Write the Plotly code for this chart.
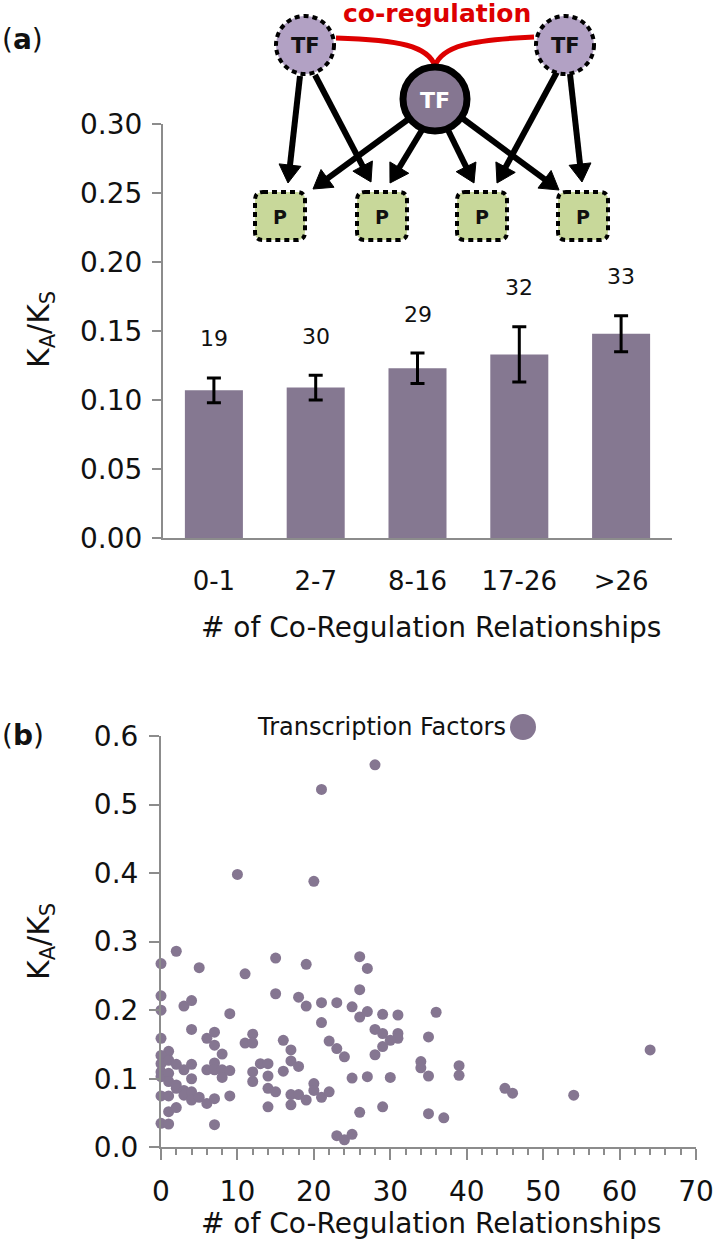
import math
import plotly.graph_objects as go

W, H = 713, 1253

# ---------------- data: panel (a) ----------------
categories = ["0-1", "2-7", "8-16", "17-26", ">26"]
ka_ks_mean = [0.107, 0.109, 0.123, 0.133, 0.148]
ka_ks_err = [0.009, 0.009, 0.011, 0.020, 0.013]
tf_counts = [19, 30, 29, 32, 33]

# ---------------- data: panel (b) ----------------
coreg_count = [10, 20, 21, 28, 2, 0, 5, 15, 19, 11, 26, 27, 26, 0, 0, 3, 4, 15, 18, 19,
               21, 23, 25, 26, 27, 29, 31, 9, 4, 0, 21, 28, 29, 31, 31, 30, 29, 6, 7, 7,
               8, 11, 12, 12, 16, 17, 17, 18, 22, 23, 24, 28, 1, 0, 0, 1, 2, 4, 3, 0,
               0, 1, 4, 1, 2, 6, 7, 7, 8, 8, 9, 13, 14, 12, 12, 14, 16, 14, 15, 17,
               18, 17, 19, 20, 20, 21, 22, 25, 27, 30, 0, 1, 2, 3, 3, 4, 4, 5, 6, 7,
               9, 1, 2, 14, 0, 1, 7, 23, 24, 25, 26, 29, 36, 35, 34, 34, 35, 39, 39, 45,
               46, 54, 64, 35, 37]
ka_ks = [0.398, 0.388, 0.522, 0.558, 0.286, 0.268, 0.262, 0.276, 0.267, 0.253, 0.278, 0.261,
         0.230, 0.221, 0.200, 0.206, 0.214, 0.224, 0.219, 0.206, 0.211, 0.211, 0.205, 0.190,
         0.198, 0.194, 0.193, 0.195, 0.172, 0.159, 0.182, 0.172, 0.166, 0.166, 0.159, 0.156,
         0.147, 0.159, 0.168, 0.149, 0.136, 0.152, 0.165, 0.152, 0.156, 0.142, 0.126, 0.118,
         0.155, 0.144, 0.132, 0.135, 0.140, 0.134, 0.122, 0.127, 0.121, 0.121, 0.113, 0.110,
         0.103, 0.108, 0.100, 0.096, 0.091, 0.113, 0.123, 0.113, 0.113, 0.102, 0.112, 0.122,
         0.122, 0.110, 0.096, 0.104, 0.111, 0.086, 0.081, 0.077, 0.077, 0.062, 0.069, 0.093,
         0.083, 0.073, 0.081, 0.101, 0.103, 0.102, 0.075, 0.075, 0.086, 0.083, 0.076, 0.081,
         0.069, 0.073, 0.064, 0.071, 0.075, 0.052, 0.058, 0.059, 0.035, 0.034, 0.033, 0.017,
         0.011, 0.019, 0.051, 0.059, 0.197, 0.161, 0.125, 0.116, 0.104, 0.119, 0.105, 0.086,
         0.079, 0.076, 0.142, 0.049, 0.043]

BAR_COLOR = "#857891"
AXIS_COLOR = "#8c8c8c"
FONT = "DejaVu Sans, Liberation Sans, Arial, sans-serif"


def px(x):
    return x / W


def py(y):
    return 1 - y / H


fig = go.Figure()

fig.add_trace(go.Bar(
    x=categories, y=ka_ks_mean, width=0.57,
    marker=dict(color=BAR_COLOR, line=dict(width=0)),
    error_y=dict(type="data", array=ka_ks_err, color="black", thickness=3, width=7),
    xaxis="x", yaxis="y", showlegend=False, hoverinfo="skip",
))

fig.add_trace(go.Scatter(
    x=coreg_count, y=ka_ks, mode="markers",
    marker=dict(size=11, color="#857691", line=dict(width=0)),
    xaxis="x2", yaxis="y2", cliponaxis=False, showlegend=False, hoverinfo="skip",
))

axis_common = dict(showline=True, linecolor=AXIS_COLOR, linewidth=2, showgrid=False,
                   zeroline=False, tickcolor=AXIS_COLOR, tickwidth=2, automargin=False,
                   ticklabeloverflow="allow")


def tf(size):
    return dict(family=FONT, size=size, color="#111")


fig.update_layout(
    width=W, height=H, autosize=False,
    margin=dict(l=0, r=0, t=0, b=0),
    paper_bgcolor="white", plot_bgcolor="white",
    showlegend=False,
    xaxis=dict(domain=[163 / W, 672 / W], anchor="y", range=[-0.5, 4.5], type="category",
               ticks="", ticklabelstandoff=19, tickfont=tf(26), **axis_common),
    yaxis=dict(domain=[py(538), py(124)], anchor="x", range=[0, 0.30], dtick=0.05,
               tickformat=".2f", ticks="outside", ticklen=9, ticklabelstandoff=4,
               tickfont=tf(28), **axis_common),
    xaxis2=dict(domain=[161 / W, 696 / W], anchor="y2", range=[0, 70], dtick=10,
                ticks="outside", ticklen=11, ticklabelstandoff=7, tickfont=tf(28),
                minor=dict(dtick=2, ticks="outside", ticklen=6, tickcolor=AXIS_COLOR,
                           tickwidth=2),
                **axis_common),
    yaxis2=dict(domain=[py(1147.3), py(736)], anchor="x2", range=[0, 0.6], dtick=0.1,
                tickformat=".1f", ticks="outside", ticklen=10, ticklabelstandoff=5,
                tickfont=tf(28), **axis_common),
)

annotations = []


def txt(x, y, text, size, color="#111", xanchor="center", angle=0):
    annotations.append(dict(x=px(x), y=py(y), xref="paper", yref="paper", text=text,
                            showarrow=False, xanchor=xanchor, yanchor="middle",
                            textangle=angle,
                            font=dict(family=FONT, size=size, color=color)))


txt(0, 40, "(<b>a</b>)", 28, xanchor="left")
txt(0, 735, "(<b>b</b>)", 28, xanchor="left")
ylab = "K<sub>A</sub>/K<sub>S</sub>"
txt(40, 330, ylab, 30, angle=-90)
txt(40, 942, ylab, 30, angle=-90)
txt(431, 627, "# of Co-Regulation Relationships", 28)
txt(431, 1223, "# of Co-Regulation Relationships", 28)
txt(508, 727, "Transcription Factors", 24, xanchor="right")

# bar count labels
for c, m, e, n in zip(categories, ka_ks_mean, ka_ks_err, tf_counts):
    annotations.append(dict(x=c, y=m + e, xref="x", yref="y", text=str(n), showarrow=False,
                            yanchor="middle", yshift=39, font=tf(22)))

txt(437, 14, "<b>co-regulation</b>", 25, color="#dd0000")

shapes = []

# red co-regulation curve
p = [(336, 38), (400, 40), (428, 46), (435, 66), (442, 46), (470, 40), (534, 37)]
path = "M{},{} C{},{} {},{} {},{} C{},{} {},{} {},{}".format(
    px(p[0][0]), py(p[0][1]), px(p[1][0]), py(p[1][1]), px(p[2][0]), py(p[2][1]),
    px(p[3][0]), py(p[3][1]), px(p[4][0]), py(p[4][1]), px(p[5][0]), py(p[5][1]),
    px(p[6][0]), py(p[6][1]))
shapes.append(dict(type="path", xref="paper", yref="paper", path=path,
                   line=dict(color="#dd0000", width=5)))

# arrows (tail -> tip), pixel positions of the schematic
arrows = [((300, 76), (288, 183)), ((315, 75), (371, 182)),
          ((410, 118), (313, 189)), ((422, 130), (390, 183)),
          ((448, 130), (474, 183)), ((462, 118), (559, 190)),
          ((557, 72), (497, 183)), ((570, 74), (582, 182))]
HEAD_L, HEAD_HW = 18, 11
for (tx, ty), (hx, hy) in arrows:
    dx, dy = hx - tx, hy - ty
    d = math.hypot(dx, dy)
    ux, uy = dx / d, dy / d
    nx, ny = -uy, ux
    bx, by = hx - HEAD_L * ux, hy - HEAD_L * uy
    shapes.append(dict(type="line", xref="paper", yref="paper",
                       x0=px(tx), y0=py(ty), x1=px(bx + 2 * ux), y1=py(by + 2 * uy),
                       line=dict(color="black", width=6)))
    tri = "M{},{} L{},{} L{},{} Z".format(
        px(hx), py(hy), px(bx + HEAD_HW * nx), py(by + HEAD_HW * ny),
        px(bx - HEAD_HW * nx), py(by - HEAD_HW * ny))
    shapes.append(dict(type="path", xref="paper", yref="paper", path=tri,
                       fillcolor="black", line=dict(color="black", width=1)))


def circle(cx, cy, r, fill, lw, dash):
    shapes.append(dict(type="circle", xref="paper", yref="paper",
                       x0=px(cx - r), x1=px(cx + r), y0=py(cy + r), y1=py(cy - r),
                       fillcolor=fill, line=dict(color="black", width=lw, dash=dash)))


circle(305, 45, 29, "#b2a1c4", 4, "5px,4px")
circle(565, 45, 29, "#b2a1c4", 4, "5px,4px")
circle(435, 99, 32, "#857691", 7, "solid")
txt(305, 46, "<b>TF</b>", 21)
txt(565, 46, "<b>TF</b>", 21)
txt(435, 100, "<b>TF</b>", 22, color="white")


def rrect(cx, cy, w, h, r):
    x0, x1, y0, y1 = cx - w / 2, cx + w / 2, cy - h / 2, cy + h / 2
    pts = [("M", x0 + r, y0), ("L", x1 - r, y0), ("Q", x1, y0, x1, y0 + r),
           ("L", x1, y1 - r), ("Q", x1, y1, x1 - r, y1), ("L", x0 + r, y1),
           ("Q", x0, y1, x0, y1 - r), ("L", x0, y0 + r), ("Q", x0, y0, x0 + r, y0)]
    s = ""
    for item in pts:
        vals = item[1:]
        coords = ["{},{}".format(px(vals[i]), py(vals[i + 1])) for i in range(0, len(vals), 2)]
        s += item[0] + " ".join(coords) + " "
    return s + "Z"


for cx in [280, 382, 482, 583]:
    shapes.append(dict(type="path", xref="paper", yref="paper", path=rrect(cx, 216, 50, 48, 8),
                       fillcolor="#c8d89a", line=dict(color="black", width=4, dash="5px,4px")))
    txt(cx, 217, "<b>P</b>", 19)

# legend marker for panel (b)
shapes.append(dict(type="circle", xref="paper", yref="paper",
                   x0=px(510), x1=px(536), y0=py(740), y1=py(714),
                   fillcolor="#857691", line=dict(width=0)))

fig.update_layout(annotations=annotations, shapes=shapes)

fig.write_html("out.html", config={"displayModeBar": False},
               post_script="document.body.style.margin='0px';"
                           "document.documentElement.style.overflow='hidden';")
